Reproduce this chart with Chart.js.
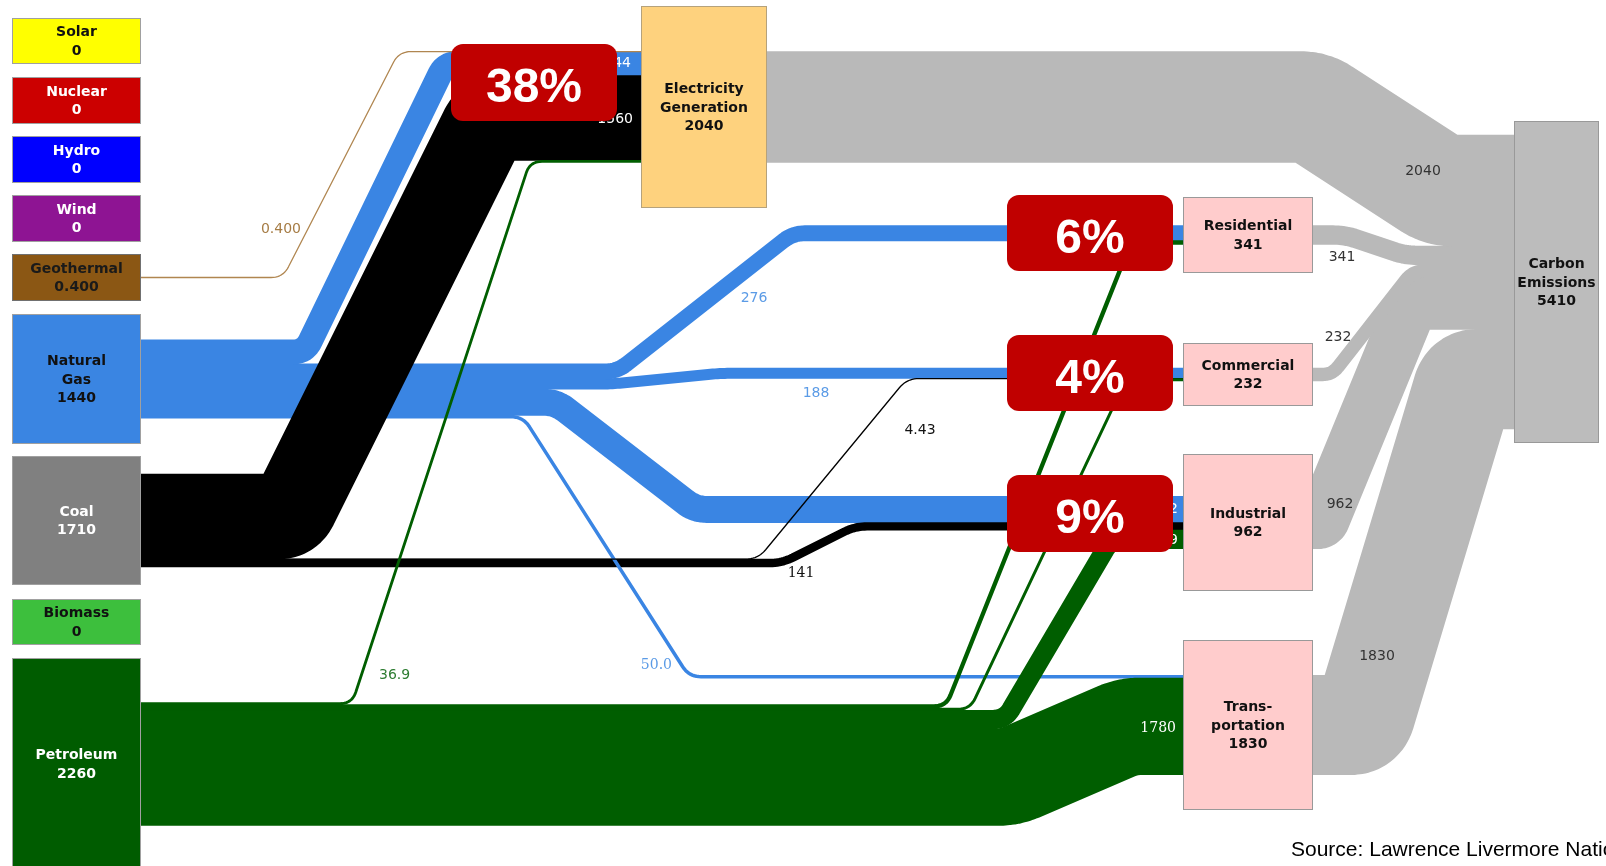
<!DOCTYPE html>
<html><head><meta charset="utf-8">
<script src="https://cdn.jsdelivr.net/npm/chart.js@4.4.1/dist/chart.umd.min.js"></script>
<style>html,body{margin:0;padding:0;background:#fff;overflow:hidden}canvas{display:block}</style>
</head><body>
<canvas id="c" width="1606" height="866"></canvas>
<script>
// ---------------- DATA ----------------
const sourceNames  = ['Solar','Nuclear','Hydro','Wind','Geothermal','Natural Gas','Coal','Biomass','Petroleum'];
const sourceValues = [0, 0, 0, 0, 0.4, 1440, 1710, 0, 2260];
const sectorNames  = ['Residential','Commercial','Industrial','Transportation'];
const sectorValues = [341, 232, 962, 1830];
const electricityValue = 2040;
const carbonValue = 5410;
const flowFrom = ['Geothermal','Natural Gas','Coal','Petroleum',
                  'Natural Gas','Petroleum',
                  'Natural Gas','Coal','Petroleum',
                  'Natural Gas','Coal','Petroleum',
                  'Natural Gas','Petroleum',
                  'Electricity','Residential','Commercial','Industrial','Transportation'];
const flowTo   = ['Electricity','Electricity','Electricity','Electricity',
                  'Residential','Residential',
                  'Commercial','Commercial','Commercial',
                  'Industrial','Industrial','Industrial',
                  'Transportation','Transportation',
                  'Carbon','Carbon','Carbon','Carbon','Carbon'];
const flowValues = [0.4, 444, 1560, 36.9,
                    276, 65,
                    188, 4.43, 39.6,
                    482, 141, 339,
                    50.0, 1780,
                    2040, 341, 232, 962, 1830];
const percentLabels = ['38%','6%','4%','9%'];
const sourceNote = 'Source: Lawrence Livermore National Laboratory';

// ---------------- LAYOUT / STYLE ----------------
const PX_PER_UNIT = 0.0543;
const GAS='#3a85e3', COAL='#000000', PET='#005e00', GRAY='#b9b9b9', GEO='#b08650';
const nodeLayout = {
  'Solar':        {box:[12,18,141,64],   fill:'#ffff00', stroke:'#a0a0a0', text:'#111'},
  'Nuclear':      {box:[12,77,141,124],  fill:'#cc0000', stroke:'#a0a0a0', text:'#fff'},
  'Hydro':        {box:[12,136,141,183], fill:'#0000ff', stroke:'#a0a0a0', text:'#fff'},
  'Wind':         {box:[12,195,141,242], fill:'#8e1493', stroke:'#a0a0a0', text:'#fff'},
  'Geothermal':   {box:[12,254,141,301], fill:'#8b5714', stroke:'#707070', text:'#1a1a1a'},
  'Natural Gas':  {box:[12,314,141,444], fill:'#3a85e2', stroke:'#a0a0a0', text:'#111', lines:['Natural','Gas']},
  'Coal':         {box:[12,456,141,585], fill:'#808080', stroke:'#a0a0a0', text:'#fff'},
  'Biomass':      {box:[12,599,141,645], fill:'#3dbf3d', stroke:'#a0a0a0', text:'#111'},
  'Petroleum':    {box:[12,658,141,870], fill:'#005c00', stroke:'#a0a0a0', text:'#fff'},
  'Electricity':  {box:[641,6,767,208],  fill:'#fed27e', stroke:'#b5a27c', text:'#111', lines:['Electricity','Generation']},
  'Residential':  {box:[1183,197,1313,273], fill:'#ffcccc', stroke:'#999', text:'#111'},
  'Commercial':   {box:[1183,343,1313,406], fill:'#ffcccc', stroke:'#999', text:'#111'},
  'Industrial':   {box:[1183,454,1313,591], fill:'#ffcccc', stroke:'#999', text:'#111'},
  'Transportation':{box:[1183,640,1313,810], fill:'#ffcccc', stroke:'#999', text:'#111', lines:['Trans-','portation']},
  'Carbon':       {box:[1514,121,1599,443], fill:'#bcbcbc', stroke:'#999', text:'#111', lines:['Carbon','Emissions']}
};
// per flow: bend start x, bend end x, colour, draw order (lower = on top), label placement
const flowLayout = [
  {xa:283, xb:399, color:GEO,  order:4, label:{x:301,y:229,align:'right',color:'#a67c45'}},
  {xa:305, xb:445, color:GAS,  order:8, label:{x:631,y:63,align:'right',color:'#ffffff'}},
  {xa:290, xb:488, color:COAL, order:4.5, label:{x:633,y:119,align:'right',color:'#ffffff'}},
  {xa:352, xb:530, color:PET,  order:3, label:{x:379,y:675,align:'left',color:'#2e7d32'}},
  {xa:617, xb:793, color:GAS,  order:8, label:{x:754,y:298,align:'center',color:'#5b9be6'}},
  {xa:946, xb:1131,color:PET,  order:3},
  {xa:610, xb:720, color:GAS,  order:8, label:{x:816,y:393,align:'center',color:'#5b9be6'}},
  {xa:758, xb:907, color:COAL, order:5, label:{x:920,y:430,align:'center',color:'#111'}},
  {xa:970, xb:1126,color:PET,  order:3},
  {xa:556, xb:695, color:GAS,  order:9, label:{x:1178,y:509,align:'right',color:'#ffffff'}},
  {xa:782, xb:855, color:COAL, order:6, label:{x:801,y:573,align:'center',color:'#111',serif:true}},
  {xa:1005,xb:1111,color:PET,  order:3, label:{x:1178,y:540,align:'right',color:'#ffffff'}},
  {xa:523, xb:689, color:GAS,  order:5, label:{x:672,y:665,align:'right',color:'#5b9be6',serif:true}},
  {xa:1010,xb:1128,color:PET,  order:3, label:{x:1176,y:728,align:'right',color:'#ffffff',serif:true}},
  {xa:1312,xb:1441,color:GRAY, order:10,label:{x:1423,y:171,align:'center',color:'#333'}},
  {xa:1345,xb:1405,color:GRAY, order:10,label:{x:1342,y:257,align:'center',color:'#333'}},
  {xa:1332,xb:1413,color:GRAY, order:10,label:{x:1338,y:337,align:'center',color:'#333'}},
  {xa:1322,xb:1412,color:GRAY, order:10,label:{x:1340,y:504,align:'center',color:'#333'}},
  {xa:1362,xb:1466,color:GRAY, order:10,label:{x:1377,y:656,align:'center',color:'#333'}}
];
const percentBoxes = [[451,44,617,121],[1007,195,1173,271],[1007,335,1173,411],[1007,475,1173,552]];

// ---------------- BUILD ----------------
function fmt(v){ if(v===0) return '0'; if(v>=100) return String(Math.round(v)); return v.toPrecision(3); }
const nodeValue = {};
sourceNames.forEach((n,i)=>nodeValue[n]=sourceValues[i]);
sectorNames.forEach((n,i)=>nodeValue[n]=sectorValues[i]);
nodeValue['Electricity']=electricityValue; nodeValue['Carbon']=carbonValue;

const outTot={}, inTot={};
flowValues.forEach((v,i)=>{ outTot[flowFrom[i]]=(outTot[flowFrom[i]]||0)+v; inTot[flowTo[i]]=(inTot[flowTo[i]]||0)+v; });
const center = n => (nodeLayout[n].box[1]+nodeLayout[n].box[3])/2;
const outCur={}, inCur={};
Object.keys(outTot).forEach(n=>outCur[n]=center(n)-outTot[n]*PX_PER_UNIT/2);
Object.keys(inTot).forEach(n=>inCur[n]=center(n)-inTot[n]*PX_PER_UNIT/2);

function roundCorners(pts,R){
  const out=[pts[0]];
  for(let i=1;i<pts.length-1;i++){
    const P=pts[i-1],V=pts[i],N=pts[i+1];
    const d1=Math.hypot(V[0]-P[0],V[1]-P[1]), d2=Math.hypot(N[0]-V[0],N[1]-V[1]);
    const r=Math.min(R,d1/2,d2/2);
    if(r<0.5){out.push(V);continue;}
    const A=[V[0]-(V[0]-P[0])/d1*r, V[1]-(V[1]-P[1])/d1*r];
    const B=[V[0]+(N[0]-V[0])/d2*r, V[1]+(N[1]-V[1])/d2*r];
    const n=10;
    for(let k=0;k<=n;k++){const t=k/n;
      out.push([(1-t)*(1-t)*A[0]+2*(1-t)*t*V[0]+t*t*B[0],(1-t)*(1-t)*A[1]+2*(1-t)*t*V[1]+t*t*B[1]]);}
  }
  out.push(pts[pts.length-1]);
  // keep one point per pixel column so the line is drawn as a plain polyline
  const res=[out[0]];
  for(let i=1;i<out.length;i++){
    const p=out[i], last=res[res.length-1];
    if(Math.floor(p[0])===Math.floor(last[0])){ if(i===out.length-1 && res.length>1) res[res.length-1]=p; continue; }
    res.push(p);
  }
  return res;
}

const datasets = flowValues.map((v,i)=>{
  const L=flowLayout[i];
  const w=v*PX_PER_UNIT;
  const ys=outCur[flowFrom[i]]+w/2; outCur[flowFrom[i]]+=w;
  const yt=inCur[flowTo[i]]+w/2;   inCur[flowTo[i]]+=w;
  const x0=nodeLayout[flowFrom[i]].box[2], x1=nodeLayout[flowTo[i]].box[0];
  const pts=roundCorners([[x0,ys],[L.xa,ys],[L.xb,yt],[x1,yt]],12);
  return {
    label: flowFrom[i]+' → '+flowTo[i],
    data: pts.map(p=>({x:p[0],y:p[1]})),
    showLine:true, fill:false, pointRadius:0, pointHoverRadius:0,
    borderColor:L.color, backgroundColor:L.color,
    borderWidth:(c)=>{const s=c.chart.scales.y; const px=Math.abs(s.getPixelForValue(w)-s.getPixelForValue(0)); return px<1.3?1.3:px+0.8;},
    borderJoinStyle:'round', borderCapStyle:'butt', tension:0,
    clip:false, order:L.order
  };
});

function rr(ctx,x,y,w,h,r){ctx.beginPath();ctx.moveTo(x+r,y);ctx.arcTo(x+w,y,x+w,y+h,r);ctx.arcTo(x+w,y+h,x,y+h,r);ctx.arcTo(x,y+h,x,y,r);ctx.arcTo(x,y,x+w,y,r);ctx.closePath();}

const decor = {
  id:'decor',
  afterDatasetsDraw(chart){
    const ctx=chart.ctx, X=chart.scales.x, Y=chart.scales.y;
    const px=v=>X.getPixelForValue(v), py=v=>Y.getPixelForValue(v);
    ctx.save();
    // nodes
    Object.keys(nodeLayout).forEach(n=>{
      const L=nodeLayout[n], b=L.box;
      const x=px(b[0]), y=py(b[1]), w=px(b[2])-x, h=py(b[3])-y;
      ctx.fillStyle=L.fill; ctx.fillRect(x,y,w,h);
      ctx.strokeStyle=L.stroke; ctx.lineWidth=1; ctx.strokeRect(Math.round(x)+0.5,Math.round(y)+0.5,Math.round(w)-1,Math.round(h)-1);
    });
    // flow labels
    ctx.textBaseline='middle';
    flowLayout.forEach((L,i)=>{
      if(!L.label) return;
      ctx.font=(L.label.serif?'14px "DejaVu Serif"':'14px "DejaVu Sans"');
      ctx.fillStyle=L.label.color; ctx.textAlign=L.label.align;
      ctx.fillText(fmt(flowValues[i]), px(L.label.x), py(L.label.y));
    });
    // node labels
    ctx.font='bold 14px "DejaVu Sans"'; ctx.textAlign='center';
    Object.keys(nodeLayout).forEach(n=>{
      const L=nodeLayout[n], b=L.box;
      const lines=(L.lines||[n]).concat([fmt(nodeValue[n])]);
      const cx=px((b[0]+b[2])/2), cy=py((b[1]+b[3])/2), lh=18.5;
      ctx.fillStyle=L.text;
      lines.forEach((t,k)=>ctx.fillText(t,cx,cy+(k-(lines.length-1)/2)*lh+1));
    });
    // percentage call-outs
    percentBoxes.forEach((b,i)=>{
      const x=px(b[0]),y=py(b[1]),w=px(b[2])-x,h=py(b[3])-y;
      ctx.fillStyle='#c00000'; rr(ctx,x,y,w,h,12); ctx.fill();
      ctx.fillStyle='#ffffff'; ctx.font='bold 48px "Liberation Sans"'; ctx.textAlign='center'; ctx.textBaseline='alphabetic';
      ctx.fillText(percentLabels[i], x+w/2, y+58);
    });
    // source note
    ctx.fillStyle='#000'; ctx.font='21px "Liberation Sans"'; ctx.textAlign='left'; ctx.textBaseline='alphabetic';
    ctx.fillText(sourceNote, px(1291), py(856));
    ctx.restore();
  }
};

new Chart(document.getElementById('c'), {
  type:'scatter',
  data:{datasets},
  options:{
    responsive:false, animation:false, events:[],
    layout:{padding:0},
    scales:{
      x:{type:'linear',min:0,max:1606,display:false},
      y:{type:'linear',min:0,max:866,reverse:true,display:false}
    },
    plugins:{legend:{display:false},tooltip:{enabled:false},title:{display:false}}
  },
  plugins:[decor]
});
</script>
</body></html>
